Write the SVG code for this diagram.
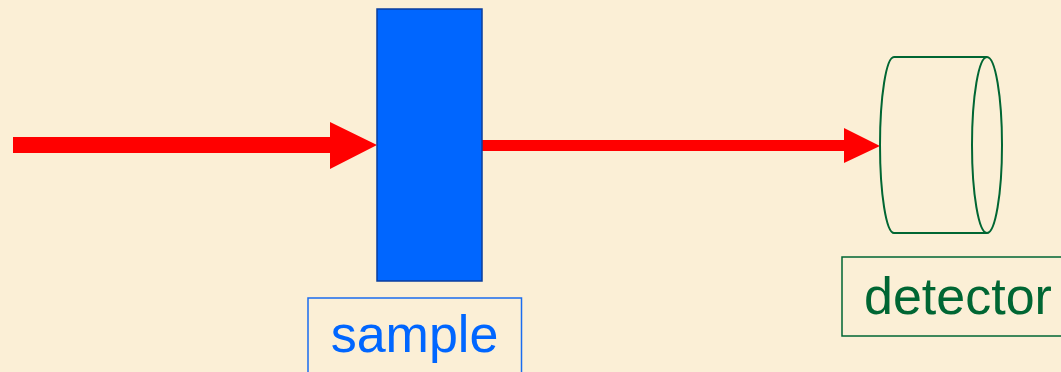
<svg xmlns="http://www.w3.org/2000/svg" width="1061" height="372" viewBox="0 0 1061 372">
  <style>
    .beam { fill: #FF0000; }
    .sample-body { fill: #0066FF; stroke: #0A3E9E; stroke-width: 1.5; }
    .sample-label-box { fill: none; stroke: #1A6CF0; stroke-width: 1.5; }
    .sample-label { fill: #0066FF; font-family: "Liberation Sans", Arial, sans-serif; font-size: 52px; }
    .det-line { fill: none; stroke: #006633; stroke-width: 2; }
    .det-label-box { fill: none; stroke: #006633; stroke-width: 1.5; }
    .det-label { fill: #006633; font-family: "Liberation Sans", Arial, sans-serif; font-size: 52px; }
  </style>

  <!-- parchment background -->
  <rect x="0" y="0" width="1061" height="372" fill="#FBEFD6"/>

  <!-- beams -->
  <g id="connectors">
    <!-- incident beam -->
    <polygon class="beam" points="13,137 330,137 330,122 377,145 330,169 330,153 13,153"/>
    <!-- transmitted beam -->
    <polygon class="beam" points="482,140 844,140 844,128 880,146 844,163 844,151 482,151"/>
  </g>

  <!-- sample slab -->
  <g id="sample">
    <rect class="sample-body" x="377" y="9" width="105" height="272"/>
    <rect class="sample-label-box" x="308" y="298" width="213.5" height="80"/>
    <text class="sample-label" x="414.5" y="352" text-anchor="middle">sample</text>
  </g>

  <!-- detector cylinder -->
  <g id="detector">
    <path class="det-line" d="M894,57 L987,57 M894,233 L987,233 M894,57 A14,88 0 0 0 894,233"/>
    <ellipse class="det-line" cx="987" cy="145" rx="15" ry="88"/>
    <rect class="det-label-box" x="842" y="257" width="230" height="79"/>
    <text class="det-label" x="864" y="314">detector</text>
  </g>
</svg>
